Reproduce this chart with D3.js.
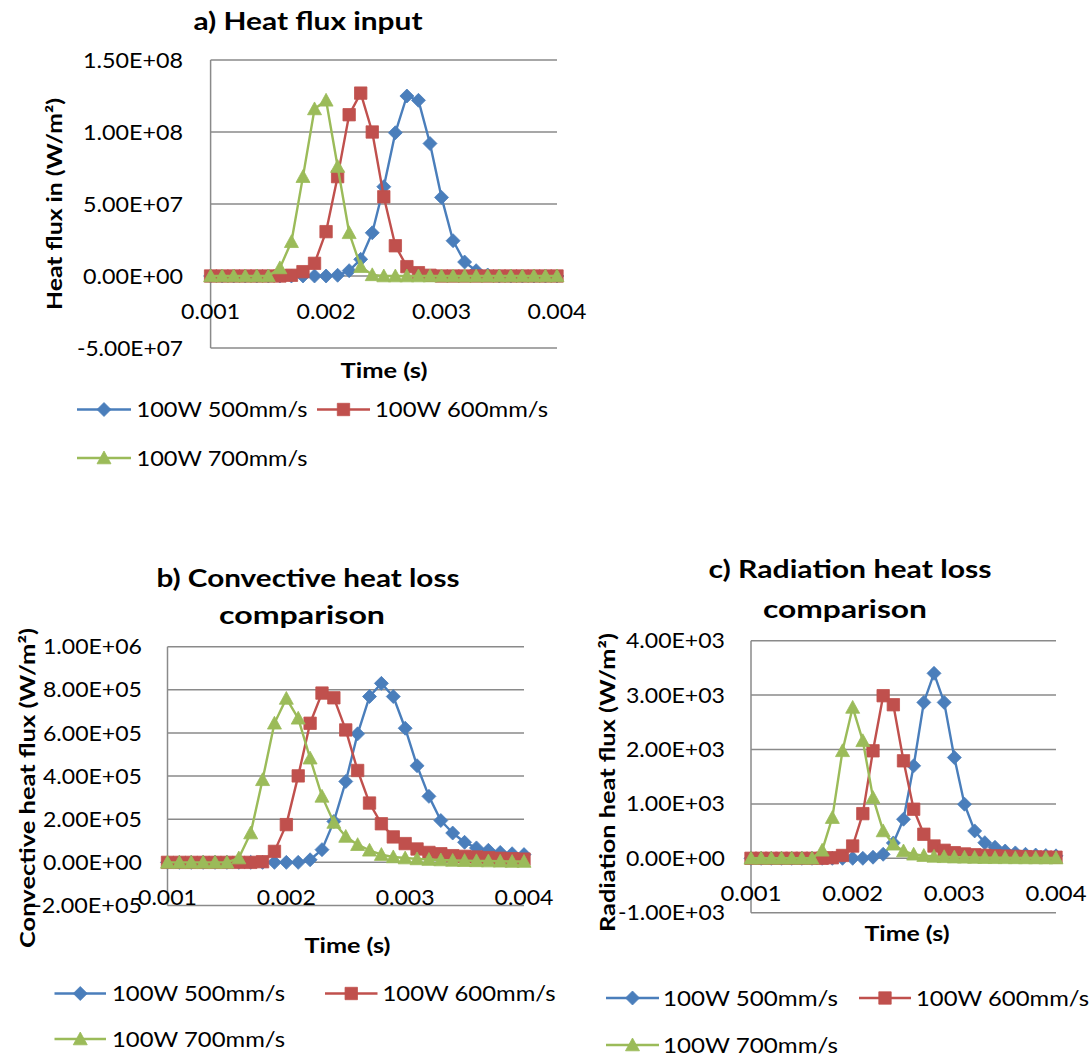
<!DOCTYPE html>
<html>
<head>
<meta charset="utf-8">
<script src="https://cdn.jsdelivr.net/npm/d3@7/dist/d3.min.js"></script>
<style>
  html, body { margin: 0; padding: 0; background: #ffffff; }
  svg { display: block; }
  text { font-family: Lato, "Open Sans", "Liberation Sans", sans-serif; fill: #000; }
</style>
</head>
<body>
<svg id="fig" width="1091" height="1057"></svg>
<script>
// Time axis shared by all three panels (s)
const time = [0.0010, 0.0011, 0.0012, 0.0013, 0.0014, 0.0015, 0.0016, 0.0017, 0.0018, 0.0019,
              0.0020, 0.0021, 0.0022, 0.0023, 0.0024, 0.0025, 0.0026, 0.0027, 0.0028, 0.0029,
              0.0030, 0.0031, 0.0032, 0.0033, 0.0034, 0.0035, 0.0036, 0.0037, 0.0038, 0.0039, 0.0040];

const seriesNames = ["100W 500mm/s", "100W 600mm/s", "100W 700mm/s"];

// a) Heat flux input (W/m²)
const heatIn500 = [0, 0, 0, 0, 0, 0, 0, 0, 0, 0,
                   0, 0.5e6, 3.7e6, 11.6e6, 30e6, 62e6, 99.5e6, 125e6, 122e6, 92e6,
                   54.6e6, 24.5e6, 9.7e6, 3.7e6, 0.7e6, 0, 0, 0, 0, 0, 0];
const heatIn600 = [0, 0, 0, 0, 0, 0, 0, 0.5e6, 3e6, 8.8e6,
                   30.8e6, 69e6, 112e6, 127e6, 100e6, 55e6, 21e6, 6.5e6, 2.3e6, 0.5e6,
                   0, 0, 0, 0, 0, 0, 0, 0, 0, 0, 0];
const heatIn700 = [0, 0, 0, 0, 0, 0, 5.6e6, 23.8e6, 69e6, 116e6,
                   122e6, 76e6, 30e6, 6.5e6, 0.8e6, 0, 0, 0, 0, 0,
                   0, 0, 0, 0, 0, 0, 0, 0, 0, 0, 0];

// b) Convective heat loss (W/m²)
const conv500 = [0, 0, 0, 0, 0, 0, 0, 0, 0, 0,
                 0, 0, 12e3, 59e3, 190e3, 375e3, 596e3, 769e3, 830e3, 769e3,
                 622e3, 448e3, 306e3, 194e3, 136e3, 93e3, 67e3, 56e3, 46e3, 40e3, 36e3];
const conv600 = [0, 0, 0, 0, 0, 0, 0, 0, 3e3, 51e3,
                 175e3, 401e3, 645e3, 785e3, 763e3, 614e3, 426e3, 275e3, 179e3, 118e3,
                 87e3, 62e3, 46e3, 40e3, 31e3, 28e3, 25e3, 22e3, 19e3, 17e3, 15e3];
const conv700 = [0, 0, 0, 0, 0, 0, 20e3, 136e3, 383e3, 645e3,
                 760e3, 668e3, 483e3, 306e3, 185e3, 120e3, 82e3, 56e3, 36e3, 25e3,
                 20e3, 16e3, 13e3, 11e3, 9e3, 8e3, 7e3, 6e3, 5e3, 4e3, 4e3];

// c) Radiation heat loss (W/m²)
const rad500 = [0, 0, 0, 0, 0, 0, 0, 0, 0, 0,
                0, 0, 20, 74, 282, 718, 1700, 2866, 3400, 2866,
                1853, 994, 503, 287, 203, 134, 99, 74, 60, 50, 45];
const rad600 = [0, 0, 0, 0, 0, 0, 0, 0, 10, 52,
                226, 821, 1976, 2989, 2823, 1792, 902, 442, 226, 147,
                103, 80, 65, 55, 45, 40, 35, 30, 25, 22, 20];
const rad700 = [0, 0, 0, 0, 0, 0, 0, 147, 748, 1976,
                2773, 2160, 1116, 503, 258, 134, 74, 50, 35, 28,
                22, 18, 15, 12, 10, 9, 8, 7, 6, 5, 5];

// Tick values and their printed labels
const xTicks = [0.001, 0.002, 0.003, 0.004];
const xTickLabels = ["0.001", "0.002", "0.003", "0.004"];
const yTicksA = [-5e7, 0, 5e7, 1e8, 1.5e8];
const yTickLabelsA = ["-5.00E+07", "0.00E+00", "5.00E+07", "1.00E+08", "1.50E+08"];
const yTicksB = [-2e5, 0, 2e5, 4e5, 6e5, 8e5, 1e6];
const yTickLabelsB = ["-2.00E+05", "0.00E+00", "2.00E+05", "4.00E+05", "6.00E+05", "8.00E+05", "1.00E+06"];
const yTicksC = [-1e3, 0, 1e3, 2e3, 3e3, 4e3];
const yTickLabelsC = ["-1.00E+03", "0.00E+00", "1.00E+03", "2.00E+03", "3.00E+03", "4.00E+03"];

const colors = ["#4a7ebb", "#c0504d", "#9bbb59"];
const gridColor = "#8a8a8a";

// Marker shapes: diamond, square, triangle
const markerPaths = [
  "M0,-7L7,0L0,7L-7,0Z",
  "M-6.2,-6.2H6.2V6.2H-6.2Z",
  "M0,-7L7,5.8L-7,5.8Z"
];

const svg = d3.select("#fig");

function drawPanel(p) {
  const g = svg.append("g");
  const x = d3.scaleLinear().domain([0.001, 0.004]).range([p.x0, p.x1]);
  const y = d3.scaleLinear().domain(p.yDomain).range([p.yBottom, p.yTop]);

  // horizontal gridlines
  g.append("g").selectAll("line").data(p.yTicks).join("line")
    .attr("x1", p.x0).attr("x2", p.x1)
    .attr("y1", d => y(d)).attr("y2", d => y(d))
    .attr("stroke", gridColor).attr("stroke-width", 1.5);

  // vertical axis line
  g.append("line")
    .attr("x1", p.x0).attr("x2", p.x0)
    .attr("y1", p.yTop).attr("y2", p.yBottom)
    .attr("stroke", gridColor).attr("stroke-width", 1.5);

  // y tick labels
  g.append("g").selectAll("text").data(p.yTicks).join("text")
    .attr("x", p.yLabelRight)
    .attr("y", d => y(d))
    .attr("dy", "0.36em")
    .attr("text-anchor", "end")
    .attr("font-size", 21)
    .attr("textLength", d => d < 0 ? p.negLabelW : p.posLabelW)
    .attr("lengthAdjust", "spacingAndGlyphs")
    .text((d, i) => p.yTickLabels[i]);

  // x tick labels sit just under the zero line
  g.append("g").selectAll("text").data(xTicks).join("text")
    .attr("x", d => x(d))
    .attr("y", p.xLabelY)
    .attr("dy", "0.36em")
    .attr("text-anchor", "middle")
    .attr("font-size", 21)
    .attr("textLength", p.xLabelW)
    .attr("lengthAdjust", "spacingAndGlyphs")
    .text((d, i) => xTickLabels[i]);

  // series: line then markers, later series on top
  const line = d3.line().x((d, i) => x(time[i])).y(d => y(d));
  p.series.forEach((vals, s) => {
    const sg = g.append("g");
    sg.append("path").datum(vals)
      .attr("d", line)
      .attr("fill", "none")
      .attr("stroke", colors[s])
      .attr("stroke-width", 2.4)
      .attr("stroke-linejoin", "round");
    sg.selectAll("path.m").data(vals).join("path")
      .attr("class", "m")
      .attr("d", markerPaths[s])
      .attr("transform", (d, i) => `translate(${x(time[i])},${y(d)})`)
      .attr("fill", colors[s])
      .attr("stroke", colors[s])
      .attr("stroke-width", 0.8);
  });

  // chart title
  p.title.forEach(t => {
    g.append("text")
      .attr("x", t.cx).attr("y", t.cy).attr("dy", "0.36em")
      .attr("text-anchor", "middle")
      .attr("font-size", 25).attr("font-weight", "bold")
      .attr("textLength", t.w).attr("lengthAdjust", "spacingAndGlyphs")
      .text(t.text);
  });

  // y axis title (rotated)
  g.append("text")
    .attr("transform", `translate(${p.yTitle.cx},${p.yTitle.cy}) rotate(-90)`)
    .attr("dy", "0.36em")
    .attr("text-anchor", "middle")
    .attr("font-size", 21).attr("font-weight", "bold")
    .attr("textLength", p.yTitle.len).attr("lengthAdjust", "spacingAndGlyphs")
    .text(p.yTitle.text);

  // x axis title
  g.append("text")
    .attr("x", p.xTitle.cx).attr("y", p.xTitle.cy).attr("dy", "0.36em")
    .attr("text-anchor", "middle")
    .attr("font-size", 21).attr("font-weight", "bold")
    .attr("textLength", p.xTitle.w).attr("lengthAdjust", "spacingAndGlyphs")
    .text("Time (s)");

  // legend
  p.legend.forEach((it, s) => {
    const lg = g.append("g");
    lg.append("line")
      .attr("x1", it.lx0).attr("x2", it.lx1)
      .attr("y1", it.y).attr("y2", it.y)
      .attr("stroke", colors[s]).attr("stroke-width", 2.4);
    lg.append("path")
      .attr("d", markerPaths[s])
      .attr("transform", `translate(${(it.lx0 + it.lx1) / 2},${it.y})`)
      .attr("fill", colors[s]).attr("stroke", colors[s]).attr("stroke-width", 0.8);
    lg.append("text")
      .attr("x", it.tx).attr("y", it.y).attr("dy", "0.36em")
      .attr("font-size", 21)
      .attr("textLength", it.tw).attr("lengthAdjust", "spacingAndGlyphs")
      .text(seriesNames[s]);
  });
}

drawPanel({
  x0: 210.6, x1: 557, yTop: 60, yBottom: 348, yDomain: [-5e7, 1.5e8],
  yTicks: yTicksA, yTickLabels: yTickLabelsA,
  yLabelRight: 183, posLabelW: 100, negLabelW: 106,
  xLabelY: 311.5, xLabelW: 59,
  series: [heatIn500, heatIn600, heatIn700],
  title: [{ text: "a) Heat flux input", cx: 308, cy: 21, w: 229 }],
  yTitle: { text: "Heat flux in (W/m²)", cx: 54, cy: 204, len: 212 },
  xTitle: { cx: 384, cy: 370, w: 87 },
  legend: [
    { lx0: 77, lx1: 131, tx: 136.5, tw: 171, y: 409.5 },
    { lx0: 317, lx1: 370, tx: 375, tw: 173, y: 409.5 },
    { lx0: 77, lx1: 131, tx: 136.5, tw: 171, y: 458 }
  ]
});

drawPanel({
  x0: 167.5, x1: 524, yTop: 646.7, yBottom: 905.5, yDomain: [-2e5, 1e6],
  yTicks: yTicksB, yTickLabels: yTickLabelsB,
  yLabelRight: 142, posLabelW: 99, negLabelW: 109,
  xLabelY: 897, xLabelW: 59,
  series: [conv500, conv600, conv700],
  title: [
    { text: "b) Convective heat loss", cx: 308, cy: 577.5, w: 303 },
    { text: "comparison", cx: 302, cy: 615, w: 166 }
  ],
  yTitle: { text: "Convective heat flux (W/m²)", cx: 27, cy: 788, len: 320 },
  xTitle: { cx: 347.5, cy: 945, w: 86 },
  legend: [
    { lx0: 54.5, lx1: 106, tx: 112, tw: 173, y: 993.5 },
    { lx0: 325, lx1: 377.5, tx: 382.5, tw: 173, y: 993.5 },
    { lx0: 54.5, lx1: 106, tx: 112, tw: 173, y: 1039 }
  ]
});

drawPanel({
  x0: 751, x1: 1056, yTop: 640.7, yBottom: 912.7, yDomain: [-1e3, 4e3],
  yTicks: yTicksC, yTickLabels: yTickLabelsC,
  yLabelRight: 725, posLabelW: 99, negLabelW: 107,
  xLabelY: 893.5, xLabelW: 61,
  series: [rad500, rad600, rad700],
  title: [
    { text: "c) Radiation heat loss", cx: 850, cy: 568.5, w: 283 },
    { text: "comparison", cx: 845, cy: 608.5, w: 164 }
  ],
  yTitle: { text: "Radiation heat flux (W/m²)", cx: 607, cy: 782.5, len: 299 },
  xTitle: { cx: 907, cy: 933, w: 85 },
  legend: [
    { lx0: 606, lx1: 659, tx: 663, tw: 175, y: 998 },
    { lx0: 859, lx1: 911, tx: 916, tw: 173, y: 998 },
    { lx0: 606, lx1: 659, tx: 663, tw: 175, y: 1045 }
  ]
});
</script>
</body>
</html>
